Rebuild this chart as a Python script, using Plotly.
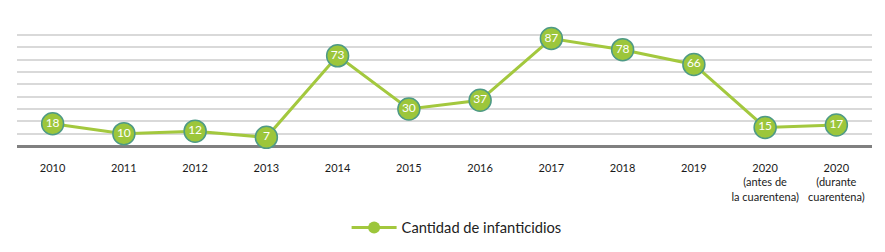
import plotly.graph_objects as go

categories = ["2010", "2011", "2012", "2013", "2014", "2015", "2016", "2017",
              "2018", "2019", "2020<br>(antes de<br>la cuarentena)",
              "2020<br>(durante<br>cuarentena)"]
values = [18, 10, 12, 7, 73, 30, 37, 87, 78, 66, 15, 17]
series_name = "Cantidad de infanticidios"

LINE = "#a3c83e"
FILL = "#9cc63b"
EDGE = "#4e9a86"
FONT = "Lato, 'Open Sans', sans-serif"

fig = go.Figure()
fig.add_trace(go.Scatter(
    x=categories, y=values, mode="lines+markers+text",
    text=[str(v) for v in values], textposition="middle center",
    textfont=dict(color="white", size=12, family=FONT),
    line=dict(color=LINE, width=3),
    marker=dict(size=22, color=FILL, line=dict(color=EDGE, width=1.5)),
    showlegend=False, cliponaxis=False,
))
fig.add_trace(go.Scatter(
    x=[None], y=[None], mode="lines+markers", name=series_name,
    line=dict(color=LINE, width=3),
    marker=dict(size=12, color=FILL),
))

fig.update_layout(
    width=885, height=252,
    margin=dict(l=17, r=13, t=22, b=106, autoexpand=False),
    plot_bgcolor="white", paper_bgcolor="white",
    font=dict(family=FONT, color="#222222"),
    legend=dict(orientation="h", x=0.3855, xanchor="left", y=-0.66, yanchor="middle",
                itemwidth=45,
                font=dict(size=14.7, color="#222222", family=FONT)),
)
fig.update_xaxes(
    type="category", range=[-0.5, 11.5], showgrid=False, showline=False,
    ticks="", tickfont=dict(size=11, color="#1a1a1a", family=FONT),
    ticklabelstandoff=14, tickangle=0, automargin=False,
)
fig.update_yaxes(
    range=[0, 100.4], dtick=10, showticklabels=False, showgrid=True,
    gridcolor="#d9d9d9", gridwidth=1.5, zeroline=True, zerolinecolor="#808080",
    zerolinewidth=2.5, showline=False, automargin=False,
)

fig.write_html("out.html", config={"displayModeBar": False},
               post_script="document.body.style.margin='0';document.body.style.overflow='hidden';")
